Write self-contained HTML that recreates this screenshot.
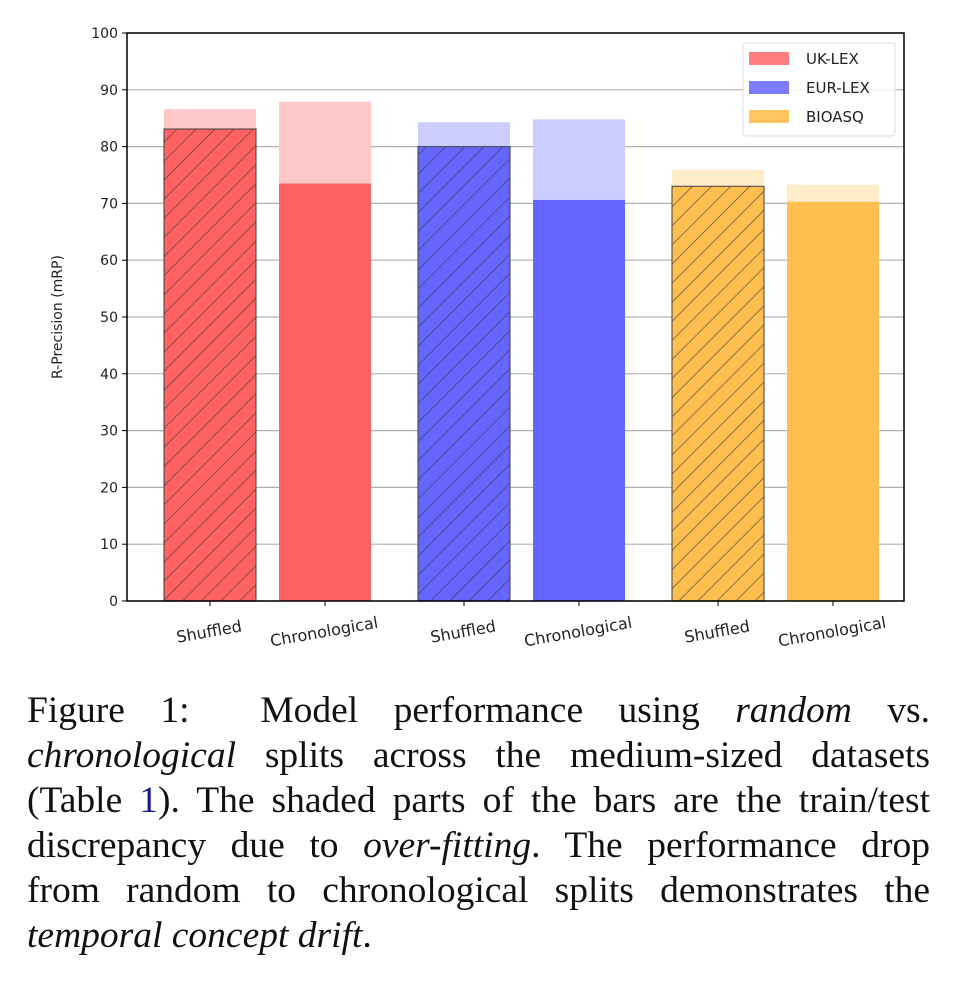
<!DOCTYPE html>
<html><head><meta charset="utf-8"><style>
body{margin:0;width:953px;height:998px;background:#fff;overflow:hidden}
svg text{font-family:"DejaVu Sans","Liberation Sans",sans-serif}
#cap{position:absolute;left:27px;top:688px;width:903px;font-family:"Liberation Serif",serif;font-size:37.5px;line-height:45px;color:#111}
#cap div{text-align:justify;text-align-last:justify;white-space:nowrap;height:45px}
#cap div.last{text-align-last:left}
a{color:#1a1a8c;text-decoration:none}
</style></head><body>
<svg id="chart" width="953" height="690" style="position:absolute;left:0;top:0">
<defs><pattern id="hatch" patternUnits="userSpaceOnUse" width="13.5" height="13.5" patternTransform="rotate(45)"><line x1="0" y1="0" x2="0" y2="13.5" stroke="#333" stroke-width="1.4" opacity="0.8"/></pattern></defs>
<g id="grid"></g><g id="bars"></g><g id="axes"></g>
<text transform="translate(62,317) rotate(-90)" text-anchor="middle" font-size="14" fill="#222">R-Precision (mRP)</text>
<g>
<rect x="743" y="43" width="152" height="93" rx="3" fill="#fff" fill-opacity="0.85" stroke="#ddd"/>
<rect x="749" y="52" width="40" height="13" fill="#ff6666" opacity="0.85"/><text x="806" y="64" font-size="15" fill="#222">UK-LEX</text>
<rect x="749" y="81" width="40" height="13" fill="#6666ff" opacity="0.85"/><text x="806" y="93" font-size="15" fill="#222">EUR-LEX</text>
<rect x="749" y="110" width="40" height="13" fill="#ffbb44" opacity="0.85"/><text x="806" y="122" font-size="15" fill="#222">BIOASQ</text>
</g>
</svg>
<div id="cap">
<div>Figure 1: &nbsp;Model performance using <i>random</i> vs.</div>
<div><i>chronological</i> splits across the medium-sized datasets</div>
<div>(Table <a>1</a>). The shaded parts of the bars are the train/test</div>
<div>discrepancy due to <i>over-fitting</i>. The performance drop</div>
<div>from random to chronological splits demonstrates the</div>
<div class="last"><i>temporal concept drift</i>.</div>
</div>
<script>
const categories=["Shuffled","Chronological","Shuffled","Chronological","Shuffled","Chronological"];
const testValues=[83.1,73.5,80.0,70.6,73.0,70.3];
const trainValues=[86.6,87.9,84.3,84.8,75.9,73.3];
const yTicks=[0,10,20,30,40,50,60,70,80,90,100];
const colors=["#ff6262","#ff6262","#6666ff","#6666ff","#ffbf50","#ffbf50"];
const shades=["#ffc8c8","#ffc8c8","#ccccff","#ccccff","#ffecc8","#ffecc8"];
const L=127,R=904,T=33,B=601;
const y=v=>B-(v/100)*(B-T);
const xc=i=>210+Math.floor(i/2)*254+(i%2)*115;
const W=92,NS="http://www.w3.org/2000/svg";
function mk(t,a,p){const e=document.createElementNS(NS,t);for(const k in a)e.setAttribute(k,a[k]);p.appendChild(e);return e;}
const g=document.getElementById('grid'),b=document.getElementById('bars'),ax=document.getElementById('axes');
yTicks.forEach(v=>{
 const l=mk('line',{x1:L,x2:R,y1:y(v),y2:y(v),stroke:'#b0b0b0','stroke-width':1.2},g);
 
 
 mk('line',{x1:L-5,x2:L,y1:y(v),y2:y(v),stroke:'#000'},ax);
 const t=mk('text',{x:L-9,y:y(v)+5,'text-anchor':'end','font-size':14,fill:'#222'},ax);t.textContent=v;
 
 
});
categories.forEach((c,i)=>{
 const x=xc(i)-W/2;
 const s=mk('rect',{x:x,y:y(trainValues[i]),width:W,height:y(testValues[i])-y(trainValues[i]),fill:shades[i]},b);
 
 
 const r=mk('rect',{x:x,y:y(testValues[i]),width:W,height:B-y(testValues[i]),fill:colors[i]},b);
 
 
 if(i%2==0){mk('rect',{x:x,y:y(testValues[i]),width:W,height:B-y(testValues[i]),fill:'url(#hatch)',stroke:'#444','stroke-width':1.3,'stroke-opacity':0.8},b);}
 mk('line',{x1:xc(i),x2:xc(i),y1:B,y2:B+5,stroke:'#000'},ax);
 const t=mk('text',{'text-anchor':'middle','font-size':16,fill:'#222',transform:`translate(${xc(i)},${B+36}) rotate(-10)`},ax);t.textContent=c;
 
 
});
mk('rect',{x:L,y:T,width:R-L,height:B-T,fill:'none',stroke:'#000','stroke-width':1.5},ax);
</script>
</body></html>
